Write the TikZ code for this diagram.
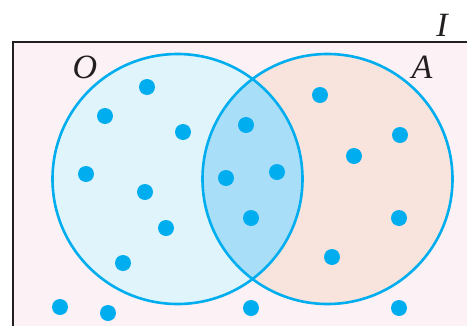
\documentclass[tikz,border=0pt]{standalone}
\usepackage{fontspec}
\setmainfont{Liberation Serif}
\definecolor{bgpink}{HTML}{FCF1F4}
\definecolor{cyanline}{HTML}{00AEEF}
\definecolor{leftfill}{HTML}{E0F4FB}
\definecolor{rightfill}{HTML}{F8E4DC}
\definecolor{lensfill}{HTML}{A8DEF8}
\definecolor{frame}{HTML}{231F20}
\tikzset{
  dot/.style={circle, fill=cyanline, inner sep=0pt, minimum size=16pt},
  setline/.style={draw=cyanline, line width=2.6pt},
  lbl/.style={inner sep=0pt, text=frame, font=\fontsize{34}{34}\selectfont\itshape}
}
\begin{document}
\begin{tikzpicture}[x=1pt,y=-1pt]
\useasboundingbox (0,0) rectangle (467,325);
\clip (0,0) rectangle (467,325);
\coordinate (cO) at (177.5,179);
\coordinate (cA) at (327.5,179);
% universe
\fill[bgpink] (13,42) rectangle (480,340);
% sets
\fill[leftfill] (cO) circle[radius=125pt];
\fill[rightfill] (cA) circle[radius=125pt];
\begin{scope}
  \clip (cO) circle[radius=125pt];
  \fill[lensfill] (cA) circle[radius=125pt];
\end{scope}
\draw[setline] (cO) circle[radius=125pt];
\draw[setline] (cA) circle[radius=125pt];
% frame
\draw[frame, line width=2.3pt] (480,42) -- (13,42) -- (13,340);
% labels
\node[lbl] (lO) at (85,67) {O};
\node[lbl] (lA) at (422,67) {A};
\node[lbl] (lI) at (442,25) {I};
% dots in O only
\node[dot] (d1) at (147,87) {};
\node[dot] (d2) at (105,116) {};
\node[dot] (d3) at (183,132) {};
\node[dot] (d4) at (86,174) {};
\node[dot] (d5) at (145,192) {};
\node[dot] (d6) at (166,228) {};
\node[dot] (d7) at (123,263) {};
% dots in both
\node[dot] (d8) at (246,125) {};
\node[dot] (d9) at (226,178) {};
\node[dot] (d10) at (277,172) {};
\node[dot] (d11) at (251,218) {};
% dots in A only
\node[dot] (d12) at (320,95) {};
\node[dot] (d13) at (400,135) {};
\node[dot] (d14) at (354,156) {};
\node[dot] (d15) at (399,218) {};
\node[dot] (d16) at (332,257) {};
% outside
\node[dot] (d17) at (60,307) {};
\node[dot] (d18) at (108,313) {};
\node[dot] (d19) at (251,308) {};
\node[dot] (d20) at (399,308) {};
\end{tikzpicture}
\end{document}
